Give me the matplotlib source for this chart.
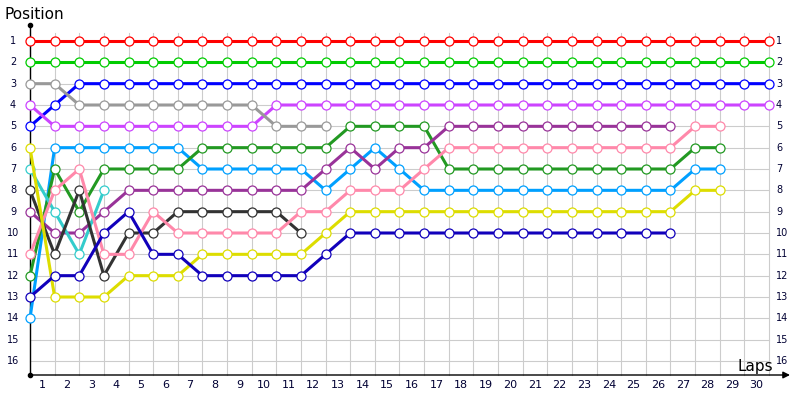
import matplotlib
matplotlib.use("Agg")
import matplotlib.pyplot as plt
import numpy as np

laps_labels = [str(i) for i in range(1, 31)]
position_labels = [str(i) for i in range(1, 17)]

# positions per lap (index = lap 0..)
red = [1] * 31
green = [2] * 31
blue = [5, 4] + [3] * 29
violet = [4] + [5] * 9 + [4] * 21
gray = [3, 3, 4, 4, 4, 4, 4, 4, 4, 4, 5, 5, 5]
lightblue = [14, 6, 6, 6, 6, 6, 6, 7, 7, 7, 7, 7, 8, 7, 6, 7, 8,
             8, 8, 8, 8, 8, 8, 8, 8, 8, 8, 7, 7]
darkgreen = [12, 7, 9, 7, 7, 7, 7, 6, 6, 6, 6, 6, 6, 5, 5, 5, 5,
             7, 7, 7, 7, 7, 7, 7, 7, 7, 7, 6, 6]
purple = [9, 10, 10, 9, 8, 8, 8, 8, 8, 8, 8, 8, 7, 6, 7, 6, 6,
          5, 5, 5, 5, 5, 5, 5, 5, 5, 5]
cyan = [7, 9, 11, 8]
black = [8, 11, 8, 12, 10, 10, 9, 9, 9, 9, 9, 10]
pink = [11, 8, 7, 11, 11, 9, 10, 10, 10, 10, 10, 9, 9, 8, 8, 8, 7,
        6, 6, 6, 6, 6, 6, 6, 6, 6, 6, 5, 5]
yellow = [6, 13, 13, 13, 12, 12, 12, 11, 11, 11, 11, 11, 10, 9, 9, 9, 9,
          9, 9, 9, 9, 9, 9, 9, 9, 9, 9, 8, 8]
navy = [13, 12, 12, 10, 9, 11, 11, 12, 12, 12, 12, 12, 11, 10, 10, 10, 10,
        10, 10, 10, 10, 10, 10, 10, 10, 10, 10]

series = [
    (red, "#ff0000"),
    (green, "#00cc00"),
    (blue, "#0000ff"),
    (violet, "#cc44ff"),
    (gray, "#999999"),
    (lightblue, "#00a0ff"),
    (darkgreen, "#229922"),
    (purple, "#993399"),
    (cyan, "#33cccc"),
    (black, "#333333"),
    (pink, "#ff88aa"),
    (yellow, "#dddd00"),
    (navy, "#1100bb"),
]

W, H = 800, 400
fig = plt.figure(figsize=(8, 4), dpi=100)
ax = fig.add_axes([0, 0, 1, 1])
ax.axis("off")

x0px, dxpx = 30.0, (769.0 - 30.0) / 30.0
y0px, dypx = 41.0, (361.0 - 41.0) / 15.0
ax.set_xlim(-x0px / dxpx, (W - x0px) / dxpx)
ax.set_ylim(1 + (H - y0px) / dypx, 1 - y0px / dypx)

n_laps = len(laps_labels)
n_pos = len(position_labels)
y_top_grid = 1 - (y0px - 33) / dypx
y_axis_bottom = 1 + (375 - y0px) / dypx
y_axis_top = 1 - (y0px - 25) / dypx

# grid
for i in range(n_laps + 1):
    ax.plot([i, i], [y_top_grid, y_axis_bottom], color="#cccccc", lw=0.8, zorder=1)
for p in range(1, n_pos + 1):
    ax.plot([0, n_laps], [p, p], color="#cccccc", lw=0.8, zorder=1)

# axes
ax.plot([0, 0], [y_axis_top, y_axis_bottom], color="black", lw=1.0, zorder=2)
ax.plot([0], [y_axis_top], marker="o", ms=3, color="black", zorder=2)
ax.plot([0], [y_axis_bottom], marker="o", ms=3, color="black", zorder=2)
x_arrow_end = (790 - x0px) / dxpx
ax.annotate("", xy=(x_arrow_end, y_axis_bottom), xytext=(0, y_axis_bottom),
            arrowprops=dict(arrowstyle="-|>", color="black", lw=1.0,
                            mutation_scale=10, shrinkA=0, shrinkB=0), zorder=2)

# tick labels
for p, lab in enumerate(position_labels, start=1):
    ax.text((13 - x0px) / dxpx, p, lab, ha="center", va="center", fontsize=7,
            color="#000033")
    ax.text((776 - x0px) / dxpx, p, lab, ha="left", va="center", fontsize=7,
            color="#000033")
for i, lab in enumerate(laps_labels, start=1):
    ax.text(i - 0.5, 1 + (385 - y0px) / dypx, lab, ha="center", va="center",
            fontsize=8, color="#000033")

ax.text((4 - x0px) / dxpx, 1 - (y0px - 15) / dypx, "Position", ha="left",
        va="center", fontsize=11)
ax.text((773 - x0px) / dxpx, 1 + (367 - y0px) / dypx, "Laps", ha="right",
        va="center", fontsize=11)

for vals, col in series:
    xs = np.arange(len(vals))
    ax.plot(xs, vals, color=col, lw=2.2, marker="o", ms=6.5,
            markerfacecolor="white", markeredgecolor=col, markeredgewidth=0.9,
            zorder=3, clip_on=False)

fig.savefig("out.png", dpi=100)
